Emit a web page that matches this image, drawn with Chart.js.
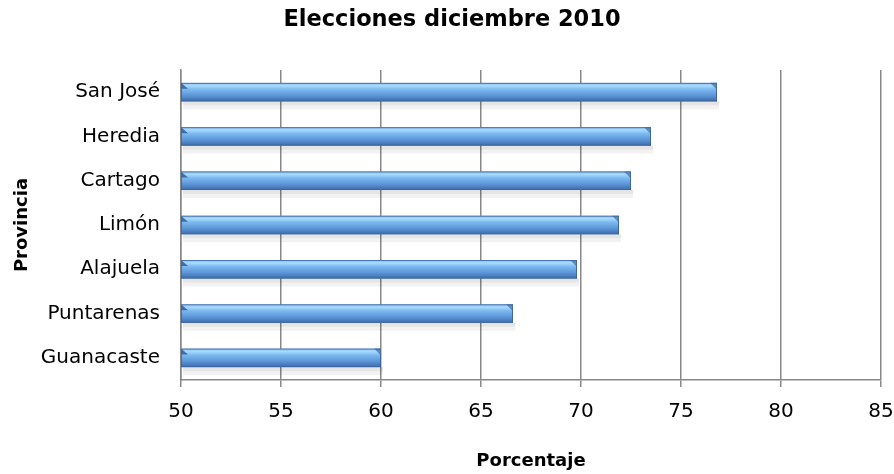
<!DOCTYPE html>
<html>
<head>
<meta charset="utf-8">
<script src="https://cdn.jsdelivr.net/npm/chart.js@4"></script>
<style>
  html, body { margin: 0; padding: 0; background: #fff; }
  #wrap { width: 894px; height: 474px; }
</style>
</head>
<body>
<div id="wrap"><canvas id="chart"></canvas></div>
<script>
// data
const provincias = ['San José', 'Heredia', 'Cartago', 'Limón', 'Alajuela', 'Puntarenas', 'Guanacaste'];
const porcentajes = [76.8, 73.5, 72.5, 71.9, 69.8, 66.6, 60.0];
const xTicks = [50, 55, 60, 65, 70, 75, 80, 85];

const fontFam = "'DejaVu Sans', Verdana, sans-serif";

// glossy look for the bars: shadow underneath, gradient on top
const glossyBars = {
    id: 'glossyBars',
    beforeDatasetsDraw(chart) {
        const ctx = chart.ctx;
        const meta = chart.getDatasetMeta(0);
        const minX = chart.chartArea.left;
        ctx.save();
        meta.data.forEach(bar => {
            const h = bar.height;
            const top = bar.y - h / 2;
            const left = Math.max(bar.base, minX);
            ctx.fillStyle = 'rgba(0,0,0,0.10)';
            ctx.fillRect(left + 2, top + h, bar.x - left, 4);
            ctx.fillStyle = 'rgba(0,0,0,0.05)';
            ctx.fillRect(left + 2, top + h + 4, bar.x - left, 4);
        });
        ctx.restore();
    },
    afterDatasetsDraw(chart) {
        const ctx = chart.ctx;
        const meta = chart.getDatasetMeta(0);
        const minX = chart.chartArea.left;
        ctx.save();
        meta.data.forEach(bar => {
            const h = bar.height;
            const top = bar.y - h / 2;
            const left = Math.max(bar.base, minX);
            const right = bar.x;
            const g = ctx.createLinearGradient(0, top, 0, top + h);
            g.addColorStop(0, '#7fb6ea');
            g.addColorStop(0.15, '#a9dbff');
            g.addColorStop(0.35, '#7cb9f0');
            g.addColorStop(0.7, '#5a93d6');
            g.addColorStop(1, '#3c6aa8');
            ctx.fillStyle = g;
            ctx.fillRect(left, top, right - left, h);
            // bevelled end caps
            ctx.fillStyle = 'rgba(40,80,140,0.55)';
            ctx.beginPath();
            ctx.moveTo(right - 7, top);
            ctx.lineTo(right, top);
            ctx.lineTo(right, top + h);
            ctx.lineTo(right - 1, top + h);
            ctx.lineTo(right - 1, top + 6);
            ctx.closePath();
            ctx.fill();
            ctx.fillStyle = 'rgba(30,70,130,0.7)';
            ctx.beginPath();
            ctx.moveTo(left, top);
            ctx.lineTo(left + 7, top + 6);
            ctx.lineTo(left, top + 6);
            ctx.closePath();
            ctx.fill();
            ctx.strokeStyle = 'rgba(60,100,160,0.8)';
            ctx.lineWidth = 1;
            ctx.strokeRect(left + 0.5, top + 0.5, right - left - 1, h - 1);
        });
        ctx.restore();
    }
};

new Chart(document.getElementById('chart'), {
    type: 'bar',
    data: {
        labels: provincias,
        datasets: [{
            label: 'Porcentaje',
            data: porcentajes,
            backgroundColor: 'rgba(0,0,0,0)',
            borderWidth: 0,
            barPercentage: 0.84,
            categoryPercentage: 0.5
        }]
    },
    options: {
        indexAxis: 'y',
        responsive: true,
        maintainAspectRatio: false,
        animation: false,
        layout: { padding: { left: 12, right: 2, top: 0, bottom: 2 } },
        scales: {
            x: {
                min: 50,
                max: 85,
                afterBuildTicks: axis => { axis.ticks = xTicks.map(v => ({ value: v })); },
                afterFit: axis => { axis.height = 92; axis.paddingRight = 13; },
                grid: { color: '#878787', lineWidth: 1.5, tickLength: 7, tickColor: '#878787' },
                border: { color: '#878787', width: 1.5 },
                ticks: { color: '#000', font: { family: fontFam, size: 20 }, padding: 13 },
                title: {
                    display: true, text: 'Porcentaje', color: '#000',
                    font: { family: fontFam, size: 18, weight: 'bold' },
                    padding: { top: 16, bottom: 0 }
                }
            },
            y: {
                afterFit: axis => { axis.width = 169; },
                grid: { display: false, drawTicks: false },
                border: { color: '#878787', width: 1.5 },
                ticks: { color: '#000', font: { family: fontFam, size: 20 }, padding: 21 },
                title: {
                    display: true, text: 'Provincia', color: '#000',
                    font: { family: fontFam, size: 18, weight: 'bold' },
                    padding: { top: 0, bottom: 0 }
                }
            }
        },
        plugins: {
            legend: { display: false },
            tooltip: { enabled: false },
            title: {
                display: true,
                text: 'Elecciones diciembre 2010',
                color: '#000',
                font: { family: fontFam, size: 22.5, weight: 'bold' },
                padding: { top: 7, bottom: 36 }
            }
        }
    },
    plugins: [glossyBars]
});
</script>
</body>
</html>
